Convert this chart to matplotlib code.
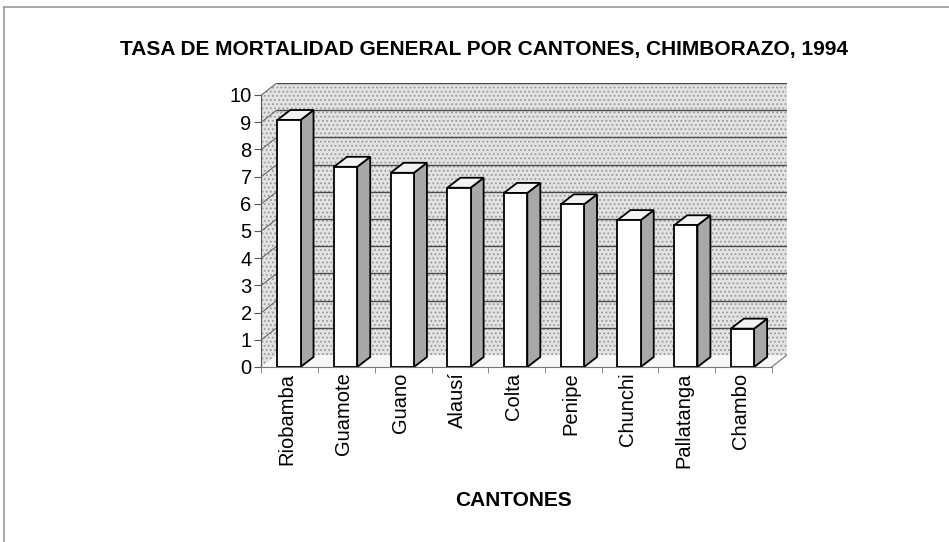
import matplotlib
matplotlib.use("Agg")
import matplotlib.pyplot as plt
from matplotlib.patches import Polygon
from matplotlib.lines import Line2D

# --- data ---
cantones = ["Riobamba", "Guamote", "Guano", "Alausí", "Colta",
            "Penipe", "Chunchi", "Pallatanga", "Chambo"]
tasa = [9.08, 7.36, 7.14, 6.59, 6.40, 5.98, 5.40, 5.21, 1.41]
y_ticks = list(range(0, 11))

plt.rcParams['font.family'] = ['Liberation Sans', 'DejaVu Sans']
plt.rcParams['hatch.linewidth'] = 0.8

W, H = 949, 542
fig = plt.figure(figsize=(W / 100, H / 100), dpi=100)

# axes: front axis at x=261 px, zero at y=367 px
slot = 56.7
unit = 27.2
wall_dx = 15.3 / slot     # depth offset of the back wall (data units)
wall_dy = 12.0 / unit
n = len(cantones)
ax_w = (n + wall_dx) * slot
ax_h = (10 + wall_dy) * unit
ax = fig.add_axes([261.4 / W, (H - 367) / H, ax_w / W, ax_h / H])
ax.set_xlim(0, n + wall_dx)
ax.set_ylim(0, 10 + wall_dy)
ax.patch.set_visible(False)

# back wall, left wall, floor
back = Polygon([(wall_dx, wall_dy), (n + wall_dx, wall_dy),
                (n + wall_dx, 10 + wall_dy), (wall_dx, 10 + wall_dy)],
               facecolor='#e2e2e2', edgecolor='#9a9a9a', lw=0, hatch='....', zorder=0)
left = Polygon([(0, 0), (wall_dx, wall_dy), (wall_dx, 10 + wall_dy), (0, 10)],
               facecolor='#e2e2e2', edgecolor='#9a9a9a', lw=0, hatch='....', zorder=0)
floor = Polygon([(0, 0), (n, 0), (n + wall_dx, wall_dy), (wall_dx, wall_dy)],
                facecolor='#f7f7f7', edgecolor='none', zorder=0)
for p in (back, left, floor):
    ax.add_patch(p)

# gridlines on back wall + diagonals on the left wall
for v in y_ticks[1:]:
    ax.plot([wall_dx, n + wall_dx], [v + wall_dy, v + wall_dy],
            color='#4a4a4a', lw=1.0, zorder=1)
    ax.plot([0, wall_dx], [v, v + wall_dy], color='#6a6a6a', lw=0.8, zorder=1)
ax.plot([n, n + wall_dx], [0, wall_dy], color='#8a8a8a', lw=1.0, zorder=1)

# bars: front faces via ax.bar, side and top faces as polygons
x0 = [i + 0.28 for i in range(n)]
bw = 0.41
bar_dx = 13.0 / slot
bar_dy = 10.0 / unit
ax.bar(x0, tasa, width=bw, align='edge', color='white',
       edgecolor='black', linewidth=1.3, zorder=3)
for xs, v in zip(x0, tasa):
    xe = xs + bw
    side = Polygon([(xe, 0), (xe + bar_dx, bar_dy), (xe + bar_dx, v + bar_dy), (xe, v)],
                   facecolor='#a8a8a8', edgecolor='black', lw=1.3, zorder=2)
    top = Polygon([(xs, v), (xe, v), (xe + bar_dx, v + bar_dy), (xs + bar_dx, v + bar_dy)],
                  facecolor='#f2f2f2', edgecolor='black', lw=1.3, zorder=2)
    ax.add_patch(side)
    ax.add_patch(top)

# axes and ticks
for s in ('top', 'right'):
    ax.spines[s].set_visible(False)
ax.spines['left'].set_bounds(0, 10)
ax.spines['bottom'].set_bounds(0, n)
ax.spines['left'].set_color('#555555')
ax.spines['bottom'].set_color('#777777')
ax.set_yticks(y_ticks)
ax.set_yticklabels([str(t) for t in y_ticks], fontsize=14.5)
ax.tick_params(axis='y', length=5, color='#555555', pad=2)
ax.set_xticks([i + 0.45 for i in range(n)])
ax.set_xticklabels(cantones, rotation=90, fontsize=14.5)
ax.set_xticks(range(n + 1), minor=True)
ax.tick_params(axis='x', which='major', length=0, pad=4)
ax.tick_params(axis='x', which='minor', length=4, color='#777777')

fig.text(484.5 / W, 1 - 50 / H,
         "TASA DE MORTALIDAD GENERAL POR CANTONES, CHIMBORAZO, 1994",
         ha='center', va='center', fontsize=15, fontweight='bold')
fig.text(514 / W, 1 - 500 / H, "CANTONES", ha='center', va='center',
         fontsize=15, fontweight='bold')

# scanned frame (top and left edges)
fig.add_artist(Line2D([4 / W, 1], [1 - 7 / H, 1 - 7 / H], color='#9a9a9a', lw=1.2))
fig.add_artist(Line2D([4 / W, 4 / W], [0, 1 - 7 / H], color='#9a9a9a', lw=1.2))

fig.savefig("out.png", dpi=100)
